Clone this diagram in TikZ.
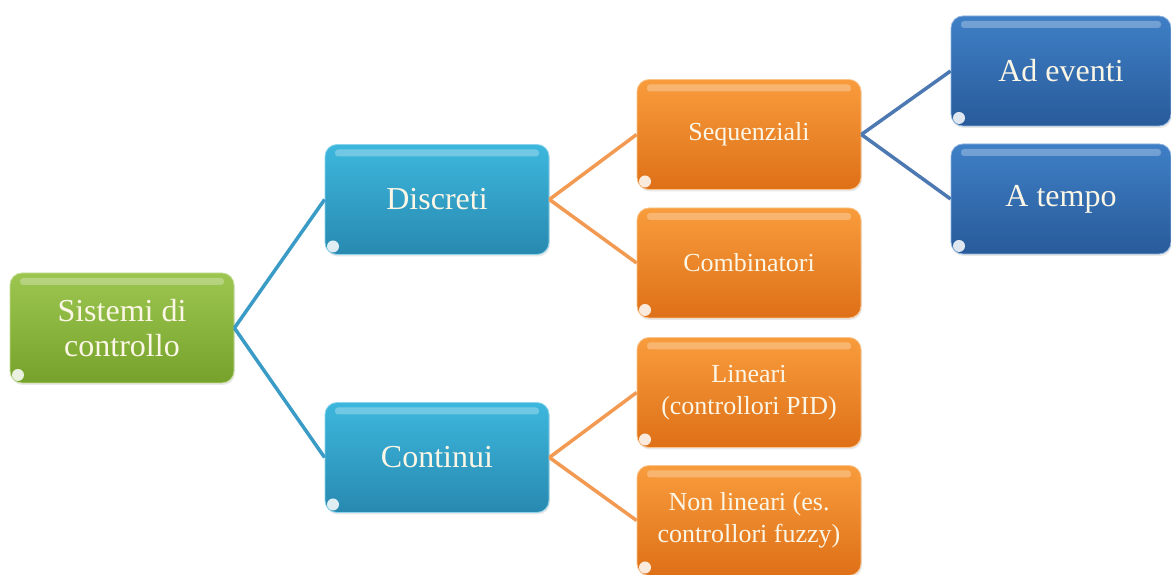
\documentclass[tikz,border=0pt]{standalone}
\usepackage{fontspec}
\setmainfont{Liberation Serif}
\usetikzlibrary{shadows}
\definecolor{txt}{HTML}{FBF6E6}
\definecolor{gtop}{HTML}{9CC650}
\definecolor{gbot}{HTML}{76A22C}
\definecolor{ctop}{HTML}{3DB7DD}
\definecolor{cbot}{HTML}{2889B0}
\definecolor{otop}{HTML}{F89C3C}
\definecolor{obot}{HTML}{DE7018}
\definecolor{btop}{HTML}{3F7FC6}
\definecolor{bbot}{HTML}{285B9A}
\definecolor{lcyan}{HTML}{3A9CC6}
\definecolor{lorange}{HTML}{F39A52}
\definecolor{lblue}{HTML}{4D79B3}
\tikzset{
  box/.style={rectangle, rounded corners=12pt, minimum width=224pt, minimum height=110pt,
    inner sep=0pt, align=center, text=txt, font=\fontsize{32}{35}\selectfont,
    drop shadow={opacity=.18, shadow xshift=1pt, shadow yshift=-2pt},
    path picture={
      \fill[white,opacity=.28,rounded corners=3pt]
        ([xshift=10pt,yshift=-12pt]path picture bounding box.north west) rectangle
        ([xshift=-10pt,yshift=-5pt]path picture bounding box.north east);
      \fill[white,opacity=.85]
        ([xshift=8pt,yshift=8pt]path picture bounding box.south west) circle (6pt);
    }},
  gbox/.style={box, top color=gtop, bottom color=gbot, draw=gtop!60!white, line width=.8pt},
  cbox/.style={box, top color=ctop, bottom color=cbot, draw=ctop!60!white, line width=.8pt},
  obox/.style={box, top color=otop, bottom color=obot, draw=otop!60!white, line width=.8pt,
    font=\fontsize{26}{32}\selectfont},
  bbox/.style={box, top color=btop, bottom color=bbot, draw=btop!60!white, line width=.8pt,
    minimum width=220pt},
  conn/.style={line width=3.5pt}
}
\begin{document}
\begin{tikzpicture}[x=1pt,y=1pt]
\useasboundingbox (0,0) rectangle (1171,575);
\fill[white] (0,0) rectangle (1171,575);
\node[gbox] (root) at (122,247) {Sistemi di\\controllo};
\node[cbox] (disc) at (437,375.5) {Discreti};
\node[cbox] (cont) at (437,117.5) {Continui};
\node[obox] (seq) at (749,440.5) {Sequenziali};
\node[obox] (comb) at (749,312) {Combinatori};
\node[obox] (lin) at (749,182.5) {Lineari\\(controllori PID)};
\node[obox] (nonlin) at (749,54.5) {Non lineari (es.\\controllori fuzzy)};
\node[bbox] (adev) at (1061,504) {Ad eventi};
\node[bbox] (atemp) at (1061,376) {A tempo};
\draw[conn, lcyan] (root.east) -- (disc.west);
\draw[conn, lcyan] (root.east) -- (cont.west);
\draw[conn, lorange] (disc.east) -- (seq.west);
\draw[conn, lorange] (disc.east) -- (comb.west);
\draw[conn, lorange] (cont.east) -- (lin.west);
\draw[conn, lorange] (cont.east) -- (nonlin.west);
\draw[conn, lblue] (seq.east) -- (adev.west);
\draw[conn, lblue] (seq.east) -- (atemp.west);
\end{tikzpicture}
\end{document}
